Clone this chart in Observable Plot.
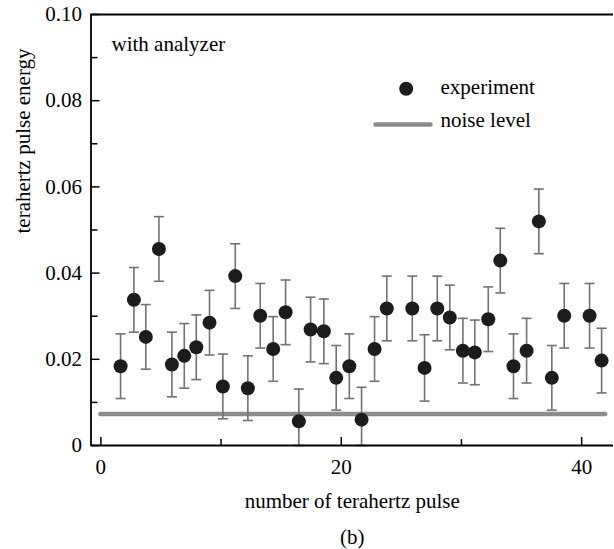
<!DOCTYPE html>
<html>
<head>
<meta charset="utf-8">
<script src="https://cdn.jsdelivr.net/npm/d3@7"></script>
<script src="https://cdn.jsdelivr.net/npm/@observablehq/plot@0.6"></script>
<style>
  html, body { margin: 0; padding: 0; background: #fff; }
  #chart { width: 614px; height: 549px; }
  #chart svg, #chart svg text { font-family: "Liberation Serif", "Tinos", "Times New Roman", Times, "DejaVu Serif", serif !important; }
</style>
</head>
<body>
<div id="chart"></div>
<script>
// pulse number (x) and measured terahertz pulse energy (y)
const pulseNumber = [1.64,2.75,3.74,4.83,5.91,6.94,7.94,9.04,10.15,11.18,12.23,13.26,14.34,15.37,16.47,17.45,18.55,19.58,20.67,21.69,22.77,23.79,25.91,26.93,27.99,29.03,30.12,31.11,32.23,33.23,34.33,35.42,36.44,37.52,38.55,40.66,41.66];
const pulseEnergy = [0.0184,0.0338,0.0252,0.0456,0.0188,0.0208,0.0228,0.0285,0.0137,0.0393,0.0133,0.0301,0.0224,0.0309,0.0056,0.0269,0.0265,0.0157,0.0184,0.0060,0.0224,0.0318,0.0318,0.0180,0.0318,0.0297,0.0220,0.0216,0.0293,0.0429,0.0184,0.0220,0.0520,0.0157,0.0301,0.0301,0.0197];
const energyError = [0.0075,0.0075,0.0075,0.0075,0.0075,0.0075,0.0075,0.0075,0.0075,0.0075,0.0075,0.0075,0.0075,0.0075,0.0075,0.0075,0.0075,0.0075,0.0075,0.0075,0.0075,0.0075,0.0075,0.0077,0.0075,0.0075,0.0075,0.0075,0.0075,0.0075,0.0075,0.0075,0.0075,0.0075,0.0075,0.0075,0.0075];
const noiseLevel = 0.0073;
const noiseRange = [0, 42];
const xDomain = [-0.82, 42.65];
const yDomain = [0, 0.1];
const xMajorTicks = [0, 20, 40];
const xMinorTicks = [10, 30];
const yMajorTicks = [0, 0.02, 0.04, 0.06, 0.08, 0.10];
const yMinorTicks = [0.01, 0.03, 0.05, 0.07, 0.09];
const yTickLabels = ["0", "0.02", "0.04", "0.06", "0.08", "0.10"];
const xLabel = "number of terahertz pulse";
const yLabel = "terahertz pulse energy";
const panelText = "with analyzer";
const caption = "(b)";
const legendItems = ["experiment", "noise level"];

const data = pulseNumber.map((x, i) => ({
  x, y: pulseEnergy[i],
  lo: Math.max(0, pulseEnergy[i] - energyError[i]),
  hi: pulseEnergy[i] + energyError[i]
}));

const capSymbol = {
  draw(ctx, size) {
    const w = 5;
    ctx.moveTo(-w, 0);
    ctx.lineTo(w, 0);
  }
};
const lineShape = {
  draw(ctx, l) {
    ctx.moveTo(0, 0);
    ctx.lineTo(0, -l);
  }
};

const font = "Liberation Serif, Tinos, Times New Roman, DejaVu Serif, serif";
const barColor = "#727272";
const dotColor = "#1c1c1c";
const noiseColor = "#8c8c8c";
const txt = { fill: "#000", fontFamily: font, lineAnchor: "middle", fontSize: 21 };

const chart = Plot.plot({
  width: 614,
  height: 549,
  marginLeft: 90.5,
  marginRight: 1,
  marginTop: 14,
  marginBottom: 104,
  style: { fontFamily: font, fontSize: "21px", color: "#000", background: "#fff", overflow: "visible" },
  x: { domain: xDomain },
  y: { domain: yDomain },
  marks: [
    // noise level
    Plot.ruleY([noiseLevel], { x1: noiseRange[0], x2: noiseRange[1], stroke: noiseColor, strokeWidth: 4.5, strokeLinecap: "round" }),
    // error bars
    Plot.ruleX(data, { x: "x", y1: "lo", y2: "hi", stroke: barColor, strokeWidth: 1.6 }),
    Plot.dot(data, { x: "x", y: "hi", symbol: capSymbol, stroke: barColor, strokeWidth: 1.6, fill: "none" }),
    Plot.dot(data, { x: "x", y: "lo", symbol: capSymbol, stroke: barColor, strokeWidth: 1.6, fill: "none" }),
    // data points
    Plot.dot(data, { x: "x", y: "y", r: 7, fill: dotColor, stroke: "none" }),
    // axes lines
    Plot.ruleY([yDomain[0], yDomain[1]], { stroke: "#000", strokeWidth: 1.8 }),
    Plot.ruleX([xDomain[0]], { stroke: "#000", strokeWidth: 1.8 }),
    // y ticks (inward) and labels
    Plot.axisY(yMajorTicks, { tickSize: -9, tickFormat: () => "", label: null, strokeWidth: 1.5 }),
    Plot.axisY(yMinorTicks, { tickSize: -7, tickFormat: () => "", label: null, strokeWidth: 1.5 }),
    Plot.axisY(yMajorTicks, { tickSize: 0, tickPadding: 9, tickFormat: (d, i) => yTickLabels[i], label: null, fill: "#000", fontSize: 21, fontFamily: font }),
    // x ticks (inward) and labels
    Plot.axisX(xMajorTicks, { tickSize: -8, tickFormat: () => "", label: null, strokeWidth: 1.5 }),
    Plot.axisX(xMinorTicks, { tickSize: -6, tickFormat: () => "", label: null, strokeWidth: 1.5 }),
    Plot.axisX(xMajorTicks, { tickSize: 0, tickPadding: 14, tickFormat: d => String(d), label: null, fill: "#000", fontSize: 21, fontFamily: font }),
    // axis titles and caption
    Plot.text([xLabel], { ...txt, frameAnchor: "bottom", dy: 56 }),
    Plot.text([yLabel], { ...txt, frameAnchor: "left", dx: -67.5, dy: 3.5, rotate: -90 }),
    Plot.text([caption], { ...txt, frameAnchor: "bottom", dy: 92 }),
    // panel text
    Plot.text([panelText], { ...txt, frameAnchor: "top-left", dx: 20.5, dy: 29.5, textAnchor: "start" }),
    // legend
    Plot.dot([legendItems[0]], { frameAnchor: "top-left", dx: 315.2, dy: 74.3, r: 7, fill: dotColor, stroke: "none" }),
    Plot.text([legendItems[0]], { ...txt, frameAnchor: "top-left", dx: 349.5, dy: 72.6, textAnchor: "start" }),
    Plot.vector([legendItems[1]], { frameAnchor: "top-left", dx: 284.5, dy: 110, rotate: 90, length: 55, anchor: "start", shape: lineShape, stroke: noiseColor, strokeWidth: 4.5, strokeLinecap: "round" }),
    Plot.text([legendItems[1]], { ...txt, frameAnchor: "top-left", dx: 349.5, dy: 106, textAnchor: "start" })
  ]
});
document.getElementById("chart").appendChild(chart);
</script>
</body>
</html>
